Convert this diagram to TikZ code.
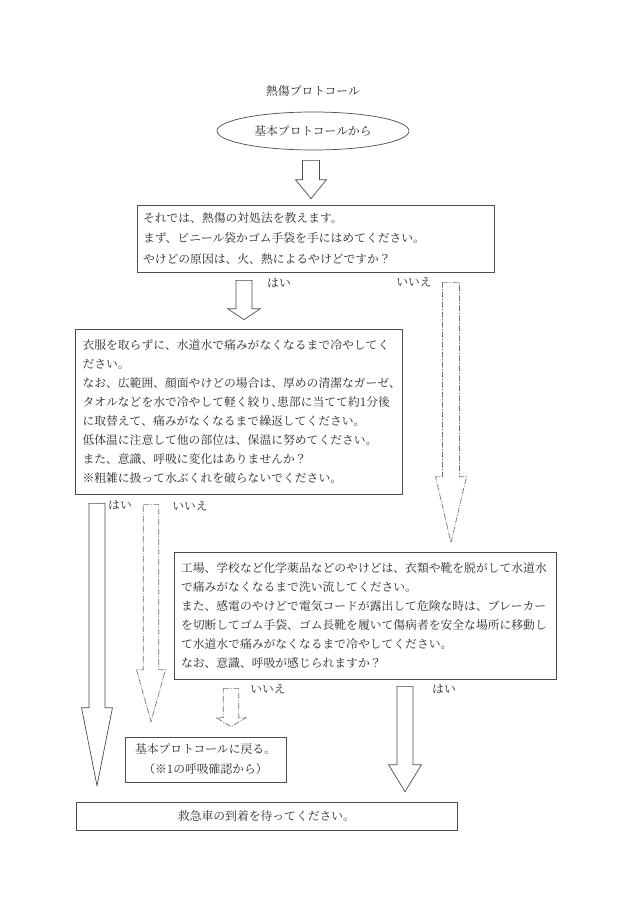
\documentclass[tikz,border=0pt]{standalone}
\usepackage{fontspec}
\IfFontExistsTF{Noto Serif CJK JP}{\setmainfont{Noto Serif CJK JP}}{\setmainfont{Noto Sans CJK JP}}
\usetikzlibrary{calc,shapes.geometric}

\newcommand{\bodyfont}{\fontsize{11.8pt}{19pt}\selectfont}
\newcommand{\halfcomma}{\makebox[0.5em][l]{、}}

% hollow block arrow: [style]{top}{tip}{shaft half width}{head half width}{head length}
\newcommand{\blockarrow}[6][]{%
  \draw[#1] let \p1=(#2), \p2=(#3) in
    (\x1-#4pt,\y1) -- (\x1+#4pt,\y1) -- (\x1+#4pt,\y2+#6pt) -- (\x1+#5pt,\y2+#6pt)
    -- (\x1,\y2) -- (\x1-#5pt,\y2+#6pt) -- (\x1-#4pt,\y2+#6pt) -- cycle;}

\begin{document}
\begin{tikzpicture}[x=1pt,y=-1pt,font=\bodyfont,text=black!85,
	box/.style={draw=black!70,line width=0.7pt,rectangle,align=left},
	solidarrow/.style={draw=black!70,line width=0.7pt,line join=miter},
	dasharrow/.style={draw=black!55,line width=0.7pt,line join=miter,
	  dash pattern=on 6pt off 1.5pt on 1pt off 1.5pt}]
	%canvas
	\fill[white] (0,0) rectangle (630,915);
	\useasboundingbox (0,0) rectangle (630,915);

	%title and start
	\node (title) at (313,91) {熱傷プロトコール};
	\node[draw=black!70,line width=0.7pt,ellipse,minimum width=192pt,minimum height=38pt] (start) at (313,131) {基本プロトコールから};

	%question box
	\node[box,inner xsep=6pt,text width=345pt,minimum height=67pt,font=\fontsize{11.8pt}{20.5pt}\selectfont] (intro) at (315.5,238.5) {それでは、熱傷の対処法を教えます。\\
	  まず、ビニール袋かゴム手袋を手にはめてください。\\
	  やけどの原因は、火、熱によるやけどですか？};

	%fire and heat
	\node[box,inner xsep=7pt,text width=313pt,minimum height=165pt] (tapwater) at (239,411.5) {衣服を取らずに、水道水で痛みがなくなるまで冷やしてく\\
	  ださい。\\
	  なお、広範囲、顔面やけどの場合は、厚めの清潔なガーゼ\halfcomma\\
	  タオルなどを水で冷やして軽く絞り\halfcomma 患部に当てて約1分後\\
	  に取替えて、痛みがなくなるまで繰返してください。\\
	  低体温に注意して他の部位は、保温に努めてください。\\
	  また、意識、呼吸に変化はありませんか？\\
	  ※粗雑に扱って水ぶくれを破らないでください。};

	%chemical and electric
	\node[box,inner xsep=7pt,text width=368pt,minimum height=127pt] (chemical) at (365,615.5) {工場、学校など化学薬品などのやけどは、衣類や靴を脱がして水道水\\
	  で痛みがなくなるまで洗い流してください。\\
	  また、感電のやけどで電気コードが露出して危険な時は、ブレーカー\\
	  を切断してゴム手袋、ゴム長靴を履いて傷病者を安全な場所に移動し\\
	  て水道水で痛みがなくなるまで冷やしてください。\\
	  なお、意識、呼吸が感じられますか？};

	%end boxes
	\node[box,align=center,minimum width=161pt,minimum height=45pt,font=\fontsize{11.8pt}{20pt}\selectfont] (retproto) at (205.5,759.5) {基本プロトコールに戻る。\\（※1の呼吸確認から）};
	\node[box,align=center,minimum width=381pt,minimum height=28pt] (wait) at (266.5,816) {救急車の到着を待ってください。};

	%arrows
	\blockarrow[solidarrow]{$(start.south)+(-2,10)$}{$(intro.north)+(0,-6)$}{8.5}{15.5}{19}
	\blockarrow[solidarrow]{$(intro.south)+(-71.5,8)$}{$(tapwater.north)+(0,-9)$}{8}{16.5}{11}
	\blockarrow[dasharrow]{$(intro.south)+(135.5,10)$}{$(chemical.north)+(0,-9)$}{8.5}{15.5}{66}
	\blockarrow[solidarrow]{$(tapwater.south)+(-142,9)$}{$(wait.north)+(0,-16)$}{8}{15.5}{78}
	\blockarrow[dasharrow]{$(tapwater.south)+(-88,10)$}{$(retproto.north)+(0,-15)$}{7.75}{14.5}{52}
	\blockarrow[dasharrow]{$(chemical.south)+(-134,9)$}{$(retproto.north)+(0,-10)$}{7.75}{15}{9}
	\blockarrow[solidarrow]{$(chemical.south)+(40,7)$}{$(wait.north)+(0,-10)$}{8}{16.5}{27}

	%yes/no labels
	\node (yes1) at (279,283) {はい};
	\node (no1) at (414,282) {いいえ};
	\node (yes2) at (120,505) {はい};
	\node (no2) at (190,506) {いいえ};
	\node (no3) at (268,689) {いいえ};
	\node (yes3) at (444,689) {はい};
\end{tikzpicture}
\end{document}
